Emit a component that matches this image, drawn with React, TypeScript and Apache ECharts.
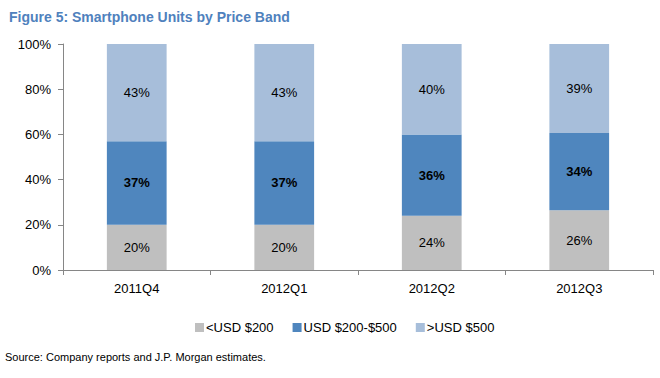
import React, { useEffect, useRef } from "react";
import * as echarts from "echarts";

const categories = ["2011Q4", "2012Q1", "2012Q2", "2012Q3"];
const seriesNames = ["<USD $200", "USD $200-$500", ">USD $500"];
const lowBand = [20, 20, 24, 26.4];
const midBand = [37, 37, 36, 34.2];
const highBand = [43, 43, 40, 39.4];
const yTicks = [0, 20, 40, 60, 80, 100];

const FONT = "Liberation Sans, Arial, Helvetica, sans-serif";

export default function App() {
  const ref = useRef<HTMLDivElement>(null);
  useEffect(() => {
    document.body.style.margin = "0";
    if (!ref.current) return;
    const chart = echarts.init(ref.current, undefined, { renderer: "svg" });
    const labelBase = {
      show: true,
      position: "inside",
      color: "#000",
      fontFamily: FONT,
      fontSize: 13,
      formatter: (p: any) => Math.round(p.value) + "%",
    };
    chart.setOption({
      animation: false,
      backgroundColor: "#fff",
      textStyle: { fontFamily: FONT },
      title: {
        text: "Figure 5: Smartphone Units by Price Band",
        left: 4,
        top: 5,
        textStyle: { color: "#4F81BD", fontSize: 14, fontWeight: "bold", fontFamily: FONT },
      },
      legend: {
        left: 190,
        top: 316,
        itemWidth: 9,
        itemHeight: 9,
        itemGap: 19,
        icon: "rect",
        data: seriesNames,
        textStyle: { color: "#000", fontSize: 13, fontFamily: FONT, padding: [0, 0, 0, -3] },
      },
      grid: { left: 63, right: 7, top: 44, bottom: 108 },
      xAxis: {
        type: "category",
        data: categories,
        axisLine: { lineStyle: { color: "#868686" } },
        axisTick: { show: true, length: 5, lineStyle: { color: "#868686" } },
        axisLabel: { color: "#000", fontSize: 13, fontFamily: FONT, margin: 12 },
      },
      yAxis: {
        type: "value",
        min: yTicks[0],
        max: yTicks[yTicks.length - 1],
        interval: 20,
        axisLine: { show: true, lineStyle: { color: "#868686" } },
        axisTick: { show: true, length: 5, lineStyle: { color: "#868686" } },
        splitLine: { show: false },
        axisLabel: { color: "#000", fontSize: 13, fontFamily: FONT, margin: 12, formatter: "{value}%" },
      },
      series: [
        {
          name: seriesNames[0],
          type: "bar",
          stack: "total",
          barWidth: "40.5%",
          data: lowBand,
          itemStyle: { color: "#BFBFBF" },
          label: { ...labelBase },
        },
        {
          name: seriesNames[1],
          type: "bar",
          stack: "total",
          data: midBand,
          itemStyle: { color: "#4F86BE" },
          label: { ...labelBase, fontWeight: "bold" },
        },
        {
          name: seriesNames[2],
          type: "bar",
          stack: "total",
          data: highBand,
          itemStyle: { color: "#A7BEDA" },
          label: { ...labelBase },
        },
      ],
      graphic: [
        {
          type: "text",
          left: 5,
          top: 351,
          style: {
            text: "Source: Company reports and J.P. Morgan estimates.",
            fill: "#000",
            fontSize: 11,
            fontFamily: FONT,
          },
        },
      ],
    });
    return () => chart.dispose();
  }, []);
  return <div ref={ref} style={{ width: 660, height: 378 }} />;
}
